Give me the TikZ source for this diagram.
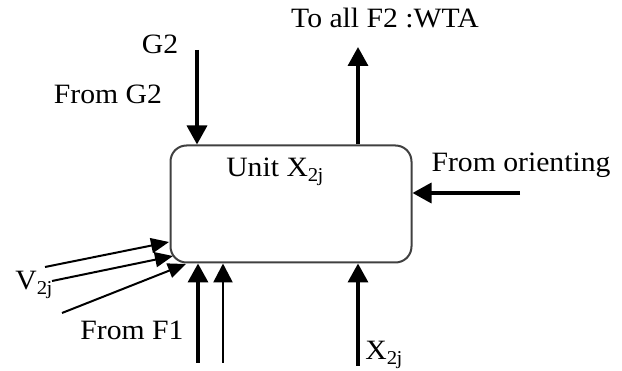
\documentclass[tikz,border=0pt]{standalone}
\usepackage{fontspec}
\setmainfont[FakeStretch=1.06]{Liberation Serif}
\usetikzlibrary{arrows.meta}
\begin{document}
\begin{tikzpicture}[x=1pt,y=-1pt,
  lbl/.style={inner sep=0pt,font=\fontsize{28}{32}\selectfont},
  thick arrow/.style={line width=3.5pt,-{Triangle[length=19pt,width=20pt]}},
  mid arrow/.style={line width=2.6pt,-{Triangle[length=19pt,width=19pt]}},
  thin arrow/.style={line width=2pt,-{Triangle[length=18pt,width=15pt]}},
  unitbox/.style={draw=black!75,line width=2pt,rounded corners=16pt,minimum width=241pt,minimum height=117pt,inner sep=0pt}]
\useasboundingbox (0,0) rectangle (622,371);
\node[unitbox] (unit) at (291,204) {};
\node[lbl] (ulabel) at (275,172) {Unit X$_{\mathrm{2j}}$};
% top outgoing arrow
\coordinate (topend) at (358,47);
\draw[thick arrow] (unit.north -| topend) -- (topend);
\node[lbl] (wta) at (385,18) {To all F2 :WTA};
% G2 arrow
\coordinate (g2start) at (197,50);
\draw[thick arrow] (g2start) -- (g2start |- unit.north);
\node[lbl] (g2) at (160,44) {G2};
\node[lbl] (fromg2) at (108,94) {From G2};
% orienting
\coordinate (orstart) at (520,193);
\draw[thick arrow] (orstart) -- (orstart -| unit.east);
\node[lbl] (orient) at (521,165) {From orienting};
% bottom arrows
\coordinate (b1) at (198,363);
\coordinate (b2) at (223,363);
\coordinate (b3) at (358,366);
\draw[thick arrow] (b1) -- (b1 |- unit.south);
\draw[mid arrow] (b2) -- (b2 |- unit.south);
\draw[thick arrow] (b3) -- (b3 |- unit.south);
\node[lbl] (x2j) at (384,355) {X$_{\mathrm{2j}}$};
% V inputs
\coordinate (v1s) at (45,267);
\coordinate (v1e) at (169,242);
\coordinate (v2s) at (52,281);
\coordinate (v2e) at (173,256);
\coordinate (v3s) at (62,313);
\coordinate (v3e) at (186,264);
\draw[thin arrow] (v1s) -- (v1e);
\draw[thin arrow] (v2s) -- (v2e);
\draw[thin arrow] (v3s) -- (v3e);
\node[lbl] (v2j) at (34,285) {V$_{\mathrm{2j}}$};
\node[lbl] (fromf1) at (132,330) {From F1};
\end{tikzpicture}
\end{document}
